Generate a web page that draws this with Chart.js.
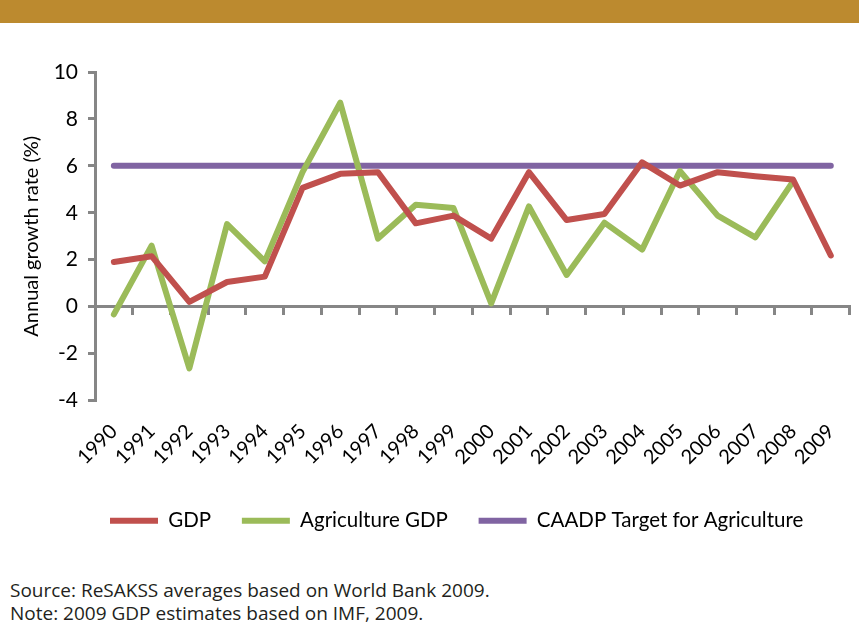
<!DOCTYPE html>
<html>
<head>
<meta charset="utf-8">
<script src="https://cdn.jsdelivr.net/npm/chart.js@4"></script>
<style>
  body { margin: 0; background: #fff; width: 859px; height: 640px; overflow: hidden; position: relative; }
  #banner { position: absolute; left: 0; top: 0; width: 859px; height: 23px; background: #bc8a2f; }
  #wrap { position: absolute; left: 0; top: 0; width: 859px; height: 541px; }
  .note { position: absolute; left: 10px; font-family: "Open Sans", sans-serif; font-size: 19px; line-height: 26px; color: #231f20; white-space: nowrap; }
</style>
</head>
<body>
<div id="banner"></div>
<div id="wrap"><canvas id="growthChart"></canvas></div>
<div class="note" style="top:577px">Source: ReSAKSS averages based on World Bank 2009.</div>
<div class="note" style="top:600px">Note: 2009 GDP estimates based on IMF, 2009.</div>
<script>
const years = ['1990','1991','1992','1993','1994','1995','1996','1997','1998','1999',
               '2000','2001','2002','2003','2004','2005','2006','2007','2008','2009'];
const gdp = [1.9, 2.15, 0.2, 1.05, 1.28, 5.06, 5.66, 5.73, 3.55, 3.88,
             2.9, 5.73, 3.69, 3.95, 6.15, 5.16, 5.73, 5.56, 5.42, 2.18];
const agriGdp = [-0.33, 2.6, -2.63, 3.52, 1.93, 5.73, 8.69, 2.9, 4.34, 4.2,
                 0.14, 4.27, 1.35, 3.58, 2.43, 5.78, 3.88, 2.95, 5.34, null];
const caadpTarget = [6, 6, 6, 6, 6, 6, 6, 6, 6, 6,
                     6, 6, 6, 6, 6, 6, 6, 6, 6, 6];

const axisGrey = '#868686';
const tickFont = { family: 'Lato, sans-serif', size: 21 };
const labelFont = { family: 'Lato, sans-serif', size: 20 };

function lineSet(label, data, color) {
  return {
    label, data,
    borderColor: color,
    backgroundColor: color,
    borderWidth: 6,
    borderCapStyle: 'round',
    borderJoinStyle: 'round',
    pointRadius: 0,
    pointHoverRadius: 0,
    tension: 0,
    fill: false
  };
}

const ctx = document.getElementById('growthChart').getContext('2d');
new Chart(ctx, {
  type: 'line',
  data: {
    labels: years,
    datasets: [
      lineSet('GDP', gdp, '#c0504d'),
      lineSet('Agriculture GDP', agriGdp, '#9bbb59'),
      lineSet('CAADP Target for Agriculture', caadpTarget, '#8064a2')
    ]
  },
  options: {
    responsive: true,
    maintainAspectRatio: false,
    animation: false,
    layout: { padding: { top: 72, left: 20, right: 9, bottom: 0 } },
    plugins: {
      tooltip: { enabled: false },
      legend: {
        position: 'bottom',
        fullSize: false,
        align: 'start',
        labels: {
          usePointStyle: true,
          pointStyle: 'line',
          pointStyleWidth: 48,
          padding: 15,
          color: '#000',
          font: { family: 'Lato, sans-serif', size: 20.5 },
          // extra room after each label, like the wide gaps in the original legend
          generateLabels: chart => Chart.defaults.plugins.legend.labels.generateLabels(chart)
            .map(item => ({ ...item, text: item.text + '   ' }))
        }
      }
    },
    scales: {
      x: {
        type: 'category',
        position: { y: 0 },
        offset: true,
        grid: { offset: true, drawOnChartArea: false, drawTicks: true, tickLength: 7, color: axisGrey, lineWidth: 3 },
        border: { color: axisGrey, width: 3 },
        ticks: { display: false }
      },
      xl: {
        type: 'category',
        position: 'bottom',
        offset: true,
        grid: { display: false },
        border: { display: false },
        ticks: { color: '#000', font: labelFont, minRotation: 45, maxRotation: 45, padding: 11, autoSkip: false },
        afterFit: s => { s.height = 95; }
      },
      y: {
        min: -4,
        max: 10,
        ticks: { stepSize: 2, color: '#000', font: tickFont, padding: 10 },
        grid: { drawOnChartArea: false, drawTicks: true, tickLength: 7, color: axisGrey, lineWidth: 3 },
        border: { color: axisGrey, width: 3 },
        title: { display: true, text: 'Annual growth rate (%)', color: '#000', font: labelFont, padding: { top: 0, bottom: 4 } },
        afterFit: s => { s.width = 75; }
      }
    }
  }
});
</script>
</body>
</html>
